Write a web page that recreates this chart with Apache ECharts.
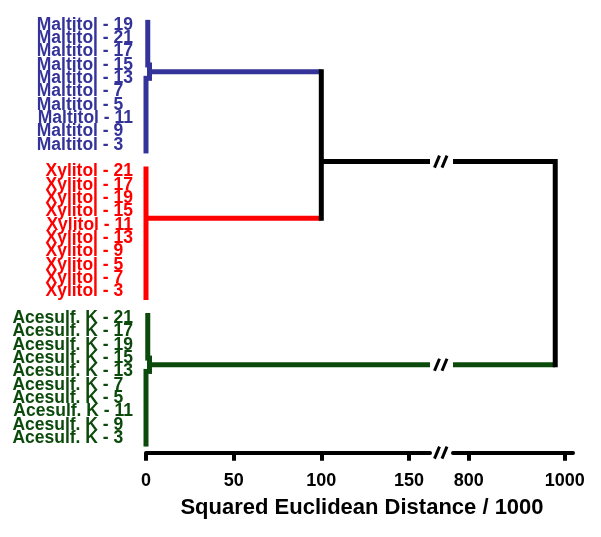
<!DOCTYPE html>
<html>
<head>
<meta charset="utf-8">
<script src="https://cdn.jsdelivr.net/npm/echarts@6/dist/echarts.min.js"></script>
<style>
  html, body { margin: 0; padding: 0; background: #fff; }
  #chart { width: 601px; height: 537px; }
</style>
</head>
<body>
<div id="chart"></div>
<script>
// leaf labels, top to bottom
const maltitolLabels = ['Maltitol - 19', 'Maltitol - 21', 'Maltitol - 17', 'Maltitol - 15', 'Maltitol - 13',
  'Maltitol - 7', 'Maltitol - 5', 'Maltitol - 11', 'Maltitol - 9', 'Maltitol - 3']
const xylitolLabels = ['Xylitol - 21', 'Xylitol - 17', 'Xylitol - 19', 'Xylitol - 15', 'Xylitol - 11',
  'Xylitol - 13', 'Xylitol - 9', 'Xylitol - 5', 'Xylitol - 7', 'Xylitol - 3']
const acesulfLabels = ['Acesulf. K - 21', 'Acesulf. K - 17', 'Acesulf. K - 19', 'Acesulf. K - 15', 'Acesulf. K - 13',
  'Acesulf. K - 7', 'Acesulf. K - 5', 'Acesulf. K - 11', 'Acesulf. K - 9', 'Acesulf. K - 3']

// first row of each group (one empty row between groups)
const groupStart = [0, 11, 22]

// within-group stems: [distance, first leaf, last leaf]
const maltitolStems = [[1, 0, 3], [0, 4, 9], [2, 3, 4]]
const xylitolStems = [[0, 0, 9]]
const acesulfStems = [[1, 0, 3], [0, 4, 9], [2, 3, 4]]
// where each group leaves its stem: [distance, row inside group]
const groupJoin = [[2, 3.5], [0, 3.5], [2, 3.5]]

// Maltitol + Xylitol merge, then everything merges
const mergeMX = [100, 10.25]   // [distance, row]
const mergeAllDist = 980

// broken x axis
const leftTicks = [0, 50, 100, 150]
const rightTicks = [800, 1000]
const leftRange = [0, 162]
const rightRange = [767, 1017]

const groupLabels = [maltitolLabels, xylitolLabels, acesulfLabels]
const stems = [maltitolStems, xylitolStems, acesulfStems]
const colors = ['#333399', '#ff0000', '#0b4a0b', '#000000']
const font = '"Liberation Sans", Arial, sans-serif'
const labelSize = 17.5
const rowMin = -1
const rowMax = 32.1

// leaves: [row, group, index in group]
const leaves = []
groupLabels.forEach((labels, g) => {
  labels.forEach((name, i) => leaves.push([groupStart[g] + i, g, i]))
})

// segments [x1, y1, x2, y2, colourIndex] for left and right part of axis
const leftSegs = []
const rightSegs = []
stems.forEach((list, g) => {
  const n = groupLabels[g].length
  list.forEach(([d, a, b]) => {
    const top = groupStart[g] + a - (a === 0 ? 0.2 : 0)
    const bot = groupStart[g] + b + (b === n - 1 ? 0.45 : 0)
    leftSegs.push([d, top, d, bot, g])
  })
})
const joinRow = groupJoin.map((j, g) => groupStart[g] + j[1])
// maltitol, xylitol -> 100
leftSegs.push([groupJoin[0][0], joinRow[0], mergeMX[0], joinRow[0], 0])
leftSegs.push([groupJoin[1][0], joinRow[1], mergeMX[0], joinRow[1], 1])
leftSegs.push([mergeMX[0], joinRow[0], mergeMX[0], joinRow[1], 3])
// Maltitol+Xylitol -> final merge (crosses the break)
leftSegs.push([mergeMX[0], mergeMX[1], leftRange[1], mergeMX[1], 3])
rightSegs.push([rightRange[0], mergeMX[1], mergeAllDist, mergeMX[1], 3])
// Acesulf. K -> final merge (crosses the break)
leftSegs.push([groupJoin[2][0], joinRow[2], leftRange[1], joinRow[2], 2])
rightSegs.push([rightRange[0], joinRow[2], mergeAllDist, joinRow[2], 2])
rightSegs.push([mergeAllDist, mergeMX[1], mergeAllDist, joinRow[2], 3])

const breakMarks = [[0.5, mergeMX[1]], [0.5, joinRow[2]], [0.5, rowMax]]

function renderSeg(params, api) {
  const p1 = api.coord([api.value(0), api.value(1)])
  const p2 = api.coord([api.value(2), api.value(3)])
  const vertical = api.value(0) === api.value(2)
  return {
    type: 'line',
    shape: { x1: p1[0], y1: p1[1], x2: p2[0], y2: p2[1] },
    style: { stroke: colors[api.value(4)], lineWidth: 5, lineCap: vertical ? 'square' : 'butt' },
  }
}

function renderBreak(params, api) {
  const c = api.coord([api.value(0), api.value(1)])
  return {
    type: 'group',
    children: [-4.5, 3].map(dx => ({
      type: 'line',
      shape: { x1: c[0] + dx - 2.5, y1: c[1] + 6, x2: c[0] + dx + 2.5, y2: c[1] - 6 },
      style: { stroke: '#000', lineWidth: 3 },
    })),
  }
}

// leaf labels: left aligned inside a group, longest one ends 13px left of the stems
function renderLeaf(params, api) {
  const g = api.value(1)
  const name = groupLabels[g][api.value(2)]
  const c = api.coord([0, api.value(0)])
  const pad = /- \d$/.test(name) ? labelSize * 0.556 : 0
  return {
    type: 'text',
    x: c[0] - 13 - pad,
    y: c[1],
    style: {
      text: name,
      fill: colors[g],
      font: 'bold ' + labelSize + 'px ' + font,
      align: 'right',
      verticalAlign: 'middle',
    },
  }
}

const xAxisBase = {
  type: 'value',
  axisLine: { onZero: false, lineStyle: { color: '#000', width: 4 } },
  axisTick: { length: 8, lineStyle: { color: '#000', width: 4 } },
  axisLabel: { color: '#000', fontSize: 18, fontWeight: 'bold', fontFamily: font, margin: 19, formatter: v => String(v) },
  splitLine: { show: false },
}
const yAxisBase = { type: 'value', min: rowMin, max: rowMax, inverse: true, show: false }

const myChart = echarts.init(document.getElementById('chart'))
myChart.setOption({
  animation: false,
  grid: [
    { left: 146, top: 11.7, width: 284, height: 441 },
    { left: 430, top: 11.7, width: 23, height: 441 },
    { left: 453, top: 11.7, width: 120, height: 441 },
  ],
  xAxis: [
    Object.assign({}, xAxisBase, {
      gridIndex: 0, min: leftRange[0], max: leftRange[1],
      axisTick: Object.assign({}, xAxisBase.axisTick, { customValues: leftTicks }),
      axisLabel: Object.assign({}, xAxisBase.axisLabel, { customValues: leftTicks }),
    }),
    { type: 'value', gridIndex: 1, min: 0, max: 1, show: false },
    Object.assign({}, xAxisBase, {
      gridIndex: 2, min: rightRange[0], max: rightRange[1],
      axisTick: Object.assign({}, xAxisBase.axisTick, { customValues: rightTicks }),
      axisLabel: Object.assign({}, xAxisBase.axisLabel, { customValues: rightTicks }),
    }),
  ],
  yAxis: [
    Object.assign({}, yAxisBase, { gridIndex: 0 }),
    Object.assign({}, yAxisBase, { gridIndex: 1 }),
    Object.assign({}, yAxisBase, { gridIndex: 2 }),
  ],
  graphic: [
    {
      type: 'text',
      x: 362,
      y: 508,
      style: {
        text: 'Squared Euclidean Distance / 1000',
        font: 'bold 22px ' + font,
        fill: '#000',
        align: 'center',
        verticalAlign: 'middle',
      },
    },
  ],
  series: [
    { type: 'custom', xAxisIndex: 0, yAxisIndex: 0, data: leaves, renderItem: renderLeaf, silent: true, clip: false },
    { type: 'custom', xAxisIndex: 0, yAxisIndex: 0, data: leftSegs, renderItem: renderSeg, silent: true, clip: false },
    { type: 'custom', xAxisIndex: 2, yAxisIndex: 2, data: rightSegs, renderItem: renderSeg, silent: true, clip: false },
    { type: 'custom', xAxisIndex: 1, yAxisIndex: 1, data: breakMarks, renderItem: renderBreak, silent: true, clip: false },
  ],
})
</script>
</body>
</html>
